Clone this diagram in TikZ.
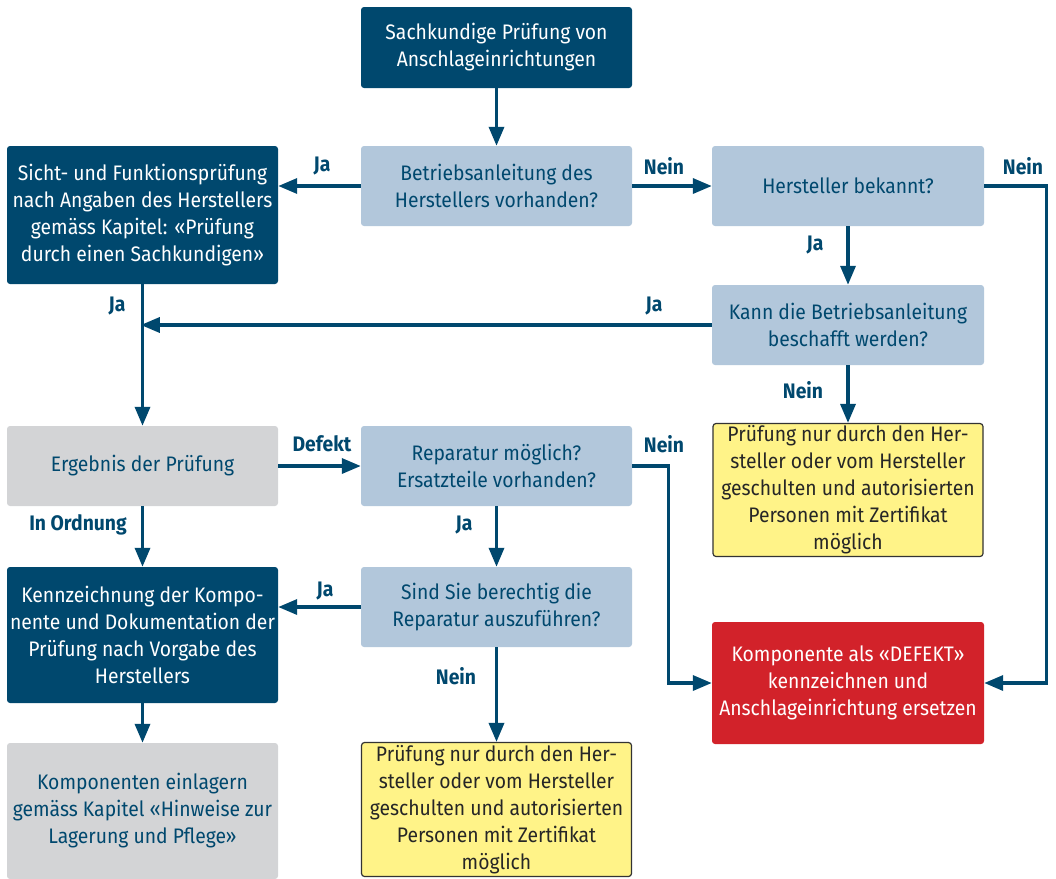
\documentclass[tikz,border=0pt]{standalone}
\usepackage{fontspec}
\setmainfont{Fira Sans}[FakeStretch=0.92]
\usetikzlibrary{arrows.meta,positioning}
\definecolor{pruefblau}{RGB}{0,72,110}
\definecolor{hellblau}{RGB}{178,199,219}
\definecolor{hellgrau}{RGB}{211,212,214}
\definecolor{hinweisgelb}{RGB}{255,243,136}
\definecolor{defektrot}{RGB}{210,34,42}
\tikzset{
    kasten/.style={rectangle, rounded corners=3pt, minimum width=271pt, inner sep=1pt,
        align=center, font=\fontsize{21}{27}\selectfont},
    dunkel/.style={kasten, fill=pruefblau, text=white},
    frage/.style={kasten, fill=hellblau, text=pruefblau},
    ergebnis/.style={kasten, fill=hellgrau, text=pruefblau},
    hinweis/.style={kasten, fill=hinweisgelb, draw=black!80, line width=1.2pt, text=black!85},
    defekt/.style={kasten, fill=defektrot, text=white},
    pfeil/.style={draw=pruefblau, line width=3.4pt, -{Triangle[length=19pt,width=15pt]}},
    marke/.style={text=pruefblau, font=\fontsize{21}{24}\selectfont\bfseries}
}
\begin{document}
\begin{tikzpicture}[x=1pt,y=1pt,yscale=-1]
        \useasboundingbox (0,0) rectangle (1056,878);
        %Boxes
        \node [dunkel, minimum height=81pt] (start) at (496.5,47.5) {Sachkundige Prüfung von\\Anschlageinrichtungen};
        \node [frage, minimum height=80pt] (anleitung) at (496.5,186) {Betriebsanleitung des\\Herstellers vorhanden?};
        \node [frage, minimum height=80pt, minimum width=272pt] (hersteller) at (848,186) {Hersteller bekannt?};
        \node [dunkel, minimum height=138pt] (sicht) at (142.5,215) {Sicht- und Funktionsprüfung\\nach Angaben des Herstellers\\gemäss Kapitel: «Prüfung\\durch einen Sachkundigen»};
        \node [frage, minimum height=80pt, minimum width=272pt] (beschaffen) at (848,325) {Kann die Betriebsanleitung\\beschafft werden?};
        \node [hinweis, minimum height=133pt, minimum width=270pt] (nurhersteller) at (848,490) {Prüfung nur durch den Her-\\steller oder vom Hersteller\\geschulten und autorisierten\\Personen mit Zertifikat\\möglich};
        \node [ergebnis, minimum height=80pt] (pruefergebnis) at (142.5,466) {Ergebnis der Prüfung};
        \node [frage, minimum height=80pt] (reparatur) at (496.5,466) {Reparatur möglich?\\Ersatzteile vorhanden?};
        \node [dunkel, minimum height=136pt] (kennzeichnung) at (142.5,635) {Kennzeichnung der Kompo-\\nente und Dokumentation der\\Prüfung nach Vorgabe des\\Herstellers};
        \node [frage, minimum height=80pt] (berechtigt) at (496.5,607) {Sind Sie berechtig die\\Reparatur auszuführen?};
        \node [defekt, minimum height=122pt, minimum width=272pt] (ersetzen) at (848,683) {Komponente als «DEFEKT»\\kennzeichnen und\\Anschlageinrichtung ersetzen};
        \node [ergebnis, minimum height=136pt] (einlagern) at (142.5,811) {Komponenten einlagern\\gemäss Kapitel «Hinweise zur\\Lagerung und Pflege»};
        \node [hinweis, minimum height=134pt, minimum width=270pt] (nurhersteller2) at (496.5,809.5) {Prüfung nur durch den Her-\\steller oder vom Hersteller\\geschulten und autorisierten\\Personen mit Zertifikat\\möglich};
        %Connectors
        \coordinate (treffpunkt) at (sicht.south |- beschaffen.west);
        \draw [pfeil] (start) -- (anleitung);
        \draw [pfeil] (anleitung.west) -- (sicht.east |- anleitung.west);
        \draw [pfeil] (anleitung) -- (hersteller);
        \draw [pfeil] (hersteller.east) -- ++(62,0) |- (ersetzen.east);
        \draw [pfeil] (hersteller) -- (beschaffen);
        \draw [pfeil, shorten >=-1.7pt] (beschaffen.west) -- (treffpunkt);
        \draw [pfeil] (sicht) -- (pruefergebnis);
        \draw [pfeil] (beschaffen) -- (nurhersteller);
        \draw [pfeil] (pruefergebnis) -- (reparatur);
        \draw [pfeil] (pruefergebnis) -- (kennzeichnung);
        \draw [pfeil] (reparatur.east) -- ++(36,0) |- (ersetzen.west);
        \draw [pfeil] (reparatur) -- (berechtigt);
        \draw [pfeil] (berechtigt.west) -- (kennzeichnung.east |- berechtigt.west);
        \draw [pfeil] (berechtigt) -- (nurhersteller2);
        \draw [pfeil] (kennzeichnung) -- (einlagern);
        % Text Node
        \node [marke] (ja1) at (322,166) {Ja};
        \node [marke] (nein1) at (664,166) {Nein};
        \node [marke] (nein2) at (1023,166) {Nein};
        \node [marke] (ja2) at (815,245) {Ja};
        \node [marke] (ja3) at (654,306) {Ja};
        \node [marke] (ja4) at (117,306) {Ja};
        \node [marke] (nein3) at (803,390) {Nein};
        \node [marke] (defekt) at (322,444) {Defekt};
        \node [marke] (ok) at (78,525) {In Ordnung};
        \node [marke] (nein4) at (664,444) {Nein};
        \node [marke] (ja5) at (464,525) {Ja};
        \node [marke] (ja6) at (325,591) {Ja};
        \node [marke] (nein5) at (456,676) {Nein};
\end{tikzpicture}
\end{document}
